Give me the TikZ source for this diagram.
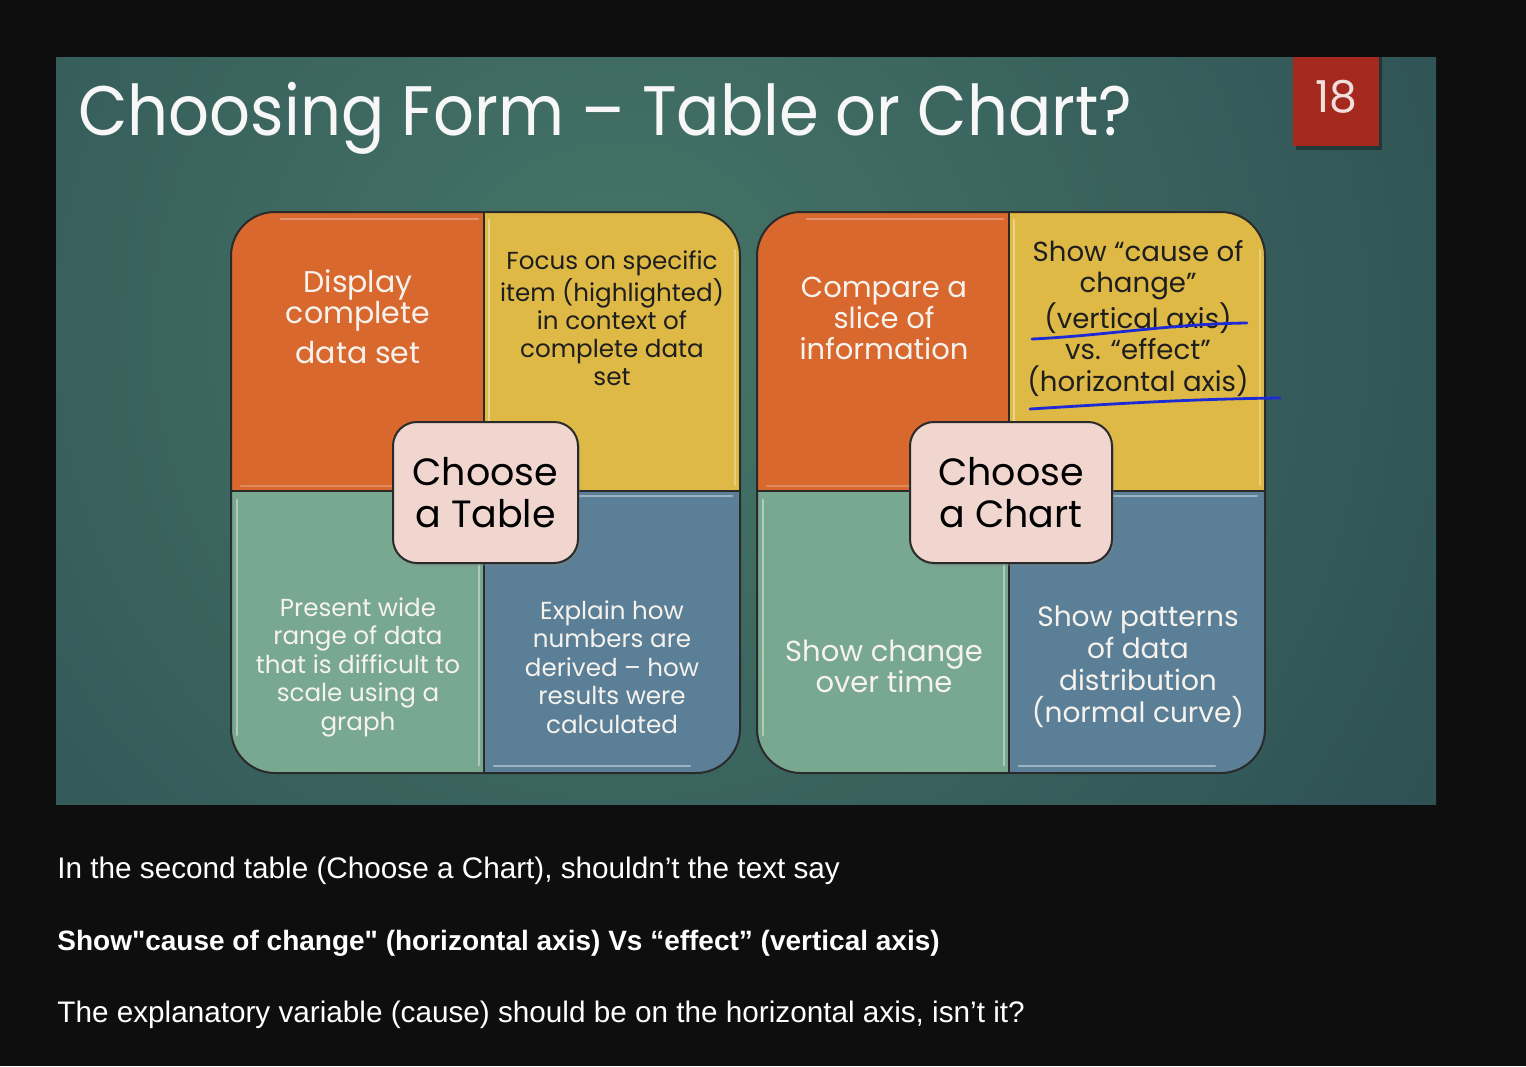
\documentclass[tikz,border=0pt]{standalone}
\usepackage{fontspec}
\setmainfont{Poppins}
\newfontfamily\ytfont{Liberation Sans}[Ligatures=TeXOff]
\usetikzlibrary{shadows}
\definecolor{pagebg}{HTML}{0E0E0E}
\definecolor{slidein}{HTML}{467668}
\definecolor{slideout}{HTML}{1D3746}
\definecolor{numred}{HTML}{A5291F}
\definecolor{qorange}{HTML}{D8682E}
\definecolor{qyellow}{HTML}{DFB945}
\definecolor{qgreen}{HTML}{79A891}
\definecolor{qblue}{HTML}{5B7F97}
\definecolor{cfill}{HTML}{F0D6CF}
\definecolor{penblue}{HTML}{1C2BD6}
\definecolor{darktext}{HTML}{1E1E1E}
\definecolor{lighttext}{HTML}{F6F3EE}
\definecolor{gridc}{HTML}{2A2A2A}
\tikzset{
  gridline/.style={draw=gridc, line width=1pt},
  hl/.style={line width=1.4pt, line cap=round, opacity=0.75},
  cbox/.style={draw=gridc, line width=1pt, fill=cfill, rounded corners=12pt,
    align=center, inner sep=0pt, text=black,
    font=\fontsize{19}{21}\selectfont,
    drop shadow={opacity=0.35, shadow xshift=1pt, shadow yshift=-1.5pt}},
  wtext/.style={align=center, text=lighttext, inner sep=0pt},
  dtext/.style={align=center, text=darktext, inner sep=0pt},
  yt/.style={anchor=base west, inner sep=0pt, text=white, font=\ytfont\fontsize{14.85}{16}\selectfont},
  pen/.style={draw=penblue, line width=1.4pt, line cap=round},
}
\newcommand\mygrid[3]{%
  \begin{scope}
    \clip[rounded corners=22pt] (#1,212) rectangle (#3,773);
    \fill[qorange] (#1,212) rectangle (#2,491);
    \fill[qyellow] (#2,212) rectangle (#3,491);
    \fill[qgreen] (#1,491) rectangle (#2,773);
    \fill[qblue] (#2,491) rectangle (#3,773);
    \draw[hl, draw=qorange!60!white] (#1+50,219) -- (#2-6,219);
    \draw[hl, draw=qorange!70!white] (#1+10,486) -- (#2-8,486);
    \draw[hl, draw=qyellow!50!white] (#2+5,220) -- (#2+5,485);
    \draw[hl, draw=qyellow!60!white] (#3-5,250) -- (#3-5,485);
    \draw[hl, draw=qgreen!45!white] (#1+6,500) -- (#1+6,735);
    \draw[hl, draw=qgreen!45!white] (#2-5,500) -- (#2-5,765);
    \draw[hl, draw=qblue!45!white] (#2+8,496) -- (#3-8,496);
    \draw[hl, draw=qblue!45!white] (#2+10,766) -- (#3-50,766);
  \end{scope}
  \draw[gridline] (#2,212) -- (#2,773);
  \draw[gridline] (#1,491) -- (#3,491);
  \draw[gridline, rounded corners=22pt] (#1,212) rectangle (#3,773);
}
\begin{document}
\begin{tikzpicture}[x=0.5pt, y=-0.5pt]
\useasboundingbox (0,0) rectangle (1526,1066);
\fill[pagebg] (0,0) rectangle (1526,1066);
% slide background
\begin{scope}
  \clip (56,57) rectangle (1436,804);
  \shade[inner color=slidein, outer color=slideout] (620,330) circle (1600);
\end{scope}
% title
\node[anchor=base west, inner sep=0pt, text=white!94!gray,
  font=\fontsize{35}{38}\selectfont] (title) at (78,135) {\scalebox{0.915}[1]{Choosing Form – Table or Chart?}};
% slide number
\fill[black, opacity=0.35] (1296,57) rectangle (1382,150);
\fill[numred] (1293,57) rectangle (1379,146);
\node[text=white!85!numred, inner sep=0pt, font=\fontsize{22}{24}\selectfont] (num) at (1336,97) {18};
% grids
\mygrid{231}{484}{740}
\mygrid{757}{1009}{1265}
% cell texts - table
\node[wtext, font=\fontsize{15}{15.5}\selectfont] (display) at (358,317)
  {Display\\complete\\[4.5pt]data set};
\node[dtext, font=\fontsize{12.3}{14.15}\selectfont] (focus) at (612,318.5)
  {Focus on specific\\item (highlighted)\\in context of\\complete data\\set};
\node[wtext, font=\fontsize{12.3}{14.25}\selectfont] (present) at (358,667)
  {Present wide\\range of data\\that is difficult to\\scale using a\\graph};
\node[wtext, font=\fontsize{12.3}{14.25}\selectfont] (explain) at (612,667)
  {Explain how\\numbers are\\derived – how\\results were\\calculated};
% cell texts - chart
\node[wtext, font=\fontsize{14.5}{15.5}\selectfont] (compare) at (884,318)
  {Compare a\\slice of\\information};
\node[dtext, font=\fontsize{13.8}{15.9}\selectfont] (cause) at (1138,318.5)
  {Show “cause of\\change”\\(vertical axis)\\vs. “effect”\\(horizontal axis)};
\node[wtext, font=\fontsize{14.5}{15.5}\selectfont] (change) at (884,666.5)
  {Show change\\over time};
\node[wtext, font=\fontsize{14}{16}\selectfont] (patterns) at (1138,667)
  {Show patterns\\of data\\distribution\\(normal curve)};
% centre boxes
\node[cbox, minimum width=92.5pt, minimum height=70.5pt] (ctable) at (485.5,492.5) {Choose\\a Table};
\node[cbox, minimum width=101pt, minimum height=70.5pt] (cchart) at (1011,492.5) {Choose\\a Chart};
% pen strokes
\draw[pen] (1032,339) .. controls (1100,336) and (1170,324) .. (1247,323);
\draw[pen] (1030,409) .. controls (1110,404) and (1190,399) .. (1280,398);
% comment text
\node[yt] (q1) at (57,878) {In the second table (Choose a Chart), shouldn’t the text say};
\node[yt, font=\ytfont\bfseries\fontsize{14}{16}\selectfont] (q2) at (57,950) {Show"cause of change" (horizontal axis) Vs “effect” (vertical axis)};
\node[yt] (q3) at (57,1022) {The explanatory variable (cause) should be on the horizontal axis, isn’t it?};
\end{tikzpicture}
\end{document}
